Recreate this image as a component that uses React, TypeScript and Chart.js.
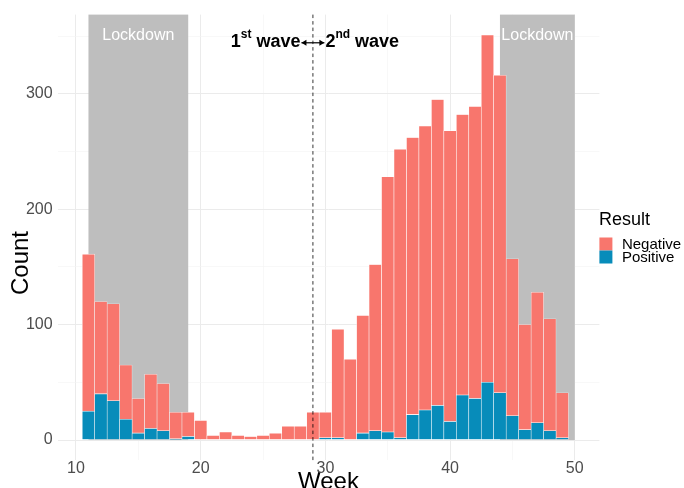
import React, { useEffect, useRef } from 'react';
import { Chart, registerables } from 'chart.js';

Chart.register(...registerables);

// ---- data ----
const weeks = [11, 12, 13, 14, 15, 16, 17, 18, 19, 20, 21, 22, 23, 24, 25, 26, 27, 28, 29, 30, 31, 32, 33, 34, 35, 36, 37, 38, 39, 40, 41, 42, 43, 44, 45, 46, 47, 48, 49];
const negativeCounts = [136, 80, 84, 47, 30, 47, 41, 23, 21, 17, 4, 7, 4, 3, 4, 6, 12, 12, 24, 22, 94, 70, 102, 144, 221, 250, 240, 246, 265, 252, 243, 253, 301, 275, 136, 91, 113, 97, 39];
const positiveCounts = [25, 40, 34, 18, 6, 10, 8, 1, 3, 0, 0, 0, 0, 0, 0, 0, 0, 0, 0, 2, 2, 0, 6, 8, 7, 2, 22, 26, 30, 16, 39, 36, 50, 41, 21, 9, 15, 8, 2];
const yMajorTicks = [0, 100, 200, 300];
const yMinorTicks = [50, 150, 250, 350];
const xMajorTicks = [10, 20, 30, 40, 50];
const xMinorTicks = [15, 25, 35, 45];
const lockdownStarts = [11, 44];
const lockdownEnds = [19, 50];
const lockdownLabel = 'Lockdown';
const waveBoundary = 29;
const seriesLabels = ['Negative', 'Positive'];
const legendTitle = 'Result';

const NEG_COLOR = '#F8766D';
const POS_COLOR = '#078CBA';
const FONT = '"Liberation Sans", Arial, Helvetica, sans-serif';

const X_MIN = 8.525;
const X_MAX = 51.975;
const Y_MIN = -17.55;
const Y_MAX = 368.55;

const overlayPlugin = {
  id: 'overlay',
  beforeDatasetsDraw(chart: any) {
    const { ctx, chartArea, scales } = chart;
    const x = scales.x;
    const y = scales.y;
    ctx.save();
    ctx.fillStyle = '#BEBEBE';
    lockdownStarts.forEach((s, i) => {
      const x0 = x.getPixelForValue(s);
      const x1 = x.getPixelForValue(lockdownEnds[i]);
      const y0 = y.getPixelForValue(0);
      ctx.fillRect(x0, chartArea.top, x1 - x0, y0 - chartArea.top);
    });
    ctx.restore();
  },
  afterDatasetsDraw(chart: any) {
    const { ctx, chartArea, scales } = chart;
    const x = scales.x;
    const y = scales.y;
    ctx.save();
    // lockdown labels
    ctx.fillStyle = '#FFFFFF';
    ctx.font = `16px ${FONT}`;
    ctx.textAlign = 'center';
    ctx.textBaseline = 'middle';
    lockdownStarts.forEach((s, i) => {
      const cx = (x.getPixelForValue(s) + x.getPixelForValue(lockdownEnds[i])) / 2;
      ctx.fillText(lockdownLabel, cx, y.getPixelForValue(350));
    });
    // dashed boundary
    const bx = x.getPixelForValue(waveBoundary);
    ctx.strokeStyle = '#000000';
    ctx.lineWidth = 0.8;
    ctx.setLineDash([3.5, 3]);
    ctx.beginPath();
    ctx.moveTo(bx, chartArea.top);
    ctx.lineTo(bx, chartArea.bottom);
    ctx.stroke();
    ctx.setLineDash([]);

    // wave annotation
    const ty = y.getPixelForValue(345);
    const big = `bold 18px ${FONT}`;
    const small = `bold 12px ${FONT}`;
    const leftEnd = x.getPixelForValue(waveBoundary - 1);
    const rightStart = x.getPixelForValue(waveBoundary + 1);
    ctx.fillStyle = '#000000';
    ctx.textBaseline = 'middle';
    ctx.textAlign = 'left';
    ctx.font = big;
    const w1 = ctx.measureText('1').width;
    const wWave = ctx.measureText(' wave').width;
    ctx.font = small;
    const wSt = ctx.measureText('st').width;
    let cx = leftEnd - (w1 + wSt + wWave);
    ctx.font = big;
    ctx.fillText('1', cx, ty);
    cx += w1;
    ctx.font = small;
    ctx.fillText('st', cx, ty - 7);
    cx += wSt;
    ctx.font = big;
    ctx.fillText(' wave', cx, ty);
    cx = rightStart;
    ctx.fillText('2', cx, ty);
    cx += ctx.measureText('2').width;
    ctx.font = small;
    ctx.fillText('nd', cx, ty - 7);
    cx += ctx.measureText('nd').width;
    ctx.font = big;
    ctx.fillText(' wave', cx, ty);
    // double arrow
    const ay = ty + 1;
    ctx.lineWidth = 1.2;
    ctx.beginPath();
    ctx.moveTo(leftEnd + 1, ay);
    ctx.lineTo(rightStart - 1, ay);
    ctx.stroke();
    ctx.beginPath();
    ctx.moveTo(leftEnd + 1, ay);
    ctx.lineTo(leftEnd + 6, ay - 3);
    ctx.lineTo(leftEnd + 6, ay + 3);
    ctx.closePath();
    ctx.fill();
    ctx.beginPath();
    ctx.moveTo(rightStart - 1, ay);
    ctx.lineTo(rightStart - 6, ay - 3);
    ctx.lineTo(rightStart - 6, ay + 3);
    ctx.closePath();
    ctx.fill();
    ctx.restore();
  },
  afterDraw(chart: any) {
    const { ctx, chartArea } = chart;
    ctx.save();
    ctx.fillStyle = '#000000';
    ctx.font = `24px ${FONT}`;
    ctx.textAlign = 'center';
    ctx.textBaseline = 'middle';
    ctx.translate(21, 263);
    ctx.rotate(-Math.PI / 2);
    ctx.fillText('Count', 0, 0);
    ctx.setTransform(1, 0, 0, 1, 0, 0);
    // legend
    const lx = chartArea.right - 0.5;
    ctx.textAlign = 'left';
    ctx.textBaseline = 'alphabetic';
    ctx.font = `18px ${FONT}`;
    ctx.fillText(legendTitle, lx, 225);
    const colors = [NEG_COLOR, POS_COLOR];
    seriesLabels.forEach((lab, i) => {
      const top = 237.5 + i * 13;
      ctx.fillStyle = colors[i];
      ctx.fillRect(lx + 0.5, top, 13, 13);
      ctx.fillStyle = '#000000';
      ctx.font = `15px ${FONT}`;
      ctx.fillText(lab, lx + 23, top + 11.8);
    });
    ctx.restore();
  },
};

export default function App() {
  const canvasRef = useRef<HTMLCanvasElement | null>(null);

  useEffect(() => {
    const prevMargin = document.body.style.margin;
    document.body.style.margin = '0';
    const canvas = canvasRef.current;
    if (!canvas) return;
    const chart = new Chart(canvas, {
      type: 'bar',
      data: {
        datasets: [
          {
            label: seriesLabels[1],
            data: weeks.map((w, i) => ({ x: w, y: positiveCounts[i] })),
            backgroundColor: POS_COLOR,
            borderColor: 'rgba(255,255,255,0.75)',
            borderWidth: 0.6,
            borderSkipped: false,
            barPercentage: 1,
            categoryPercentage: 1,
          },
          {
            label: seriesLabels[0],
            data: weeks.map((w, i) => ({ x: w, y: negativeCounts[i] })),
            backgroundColor: NEG_COLOR,
            borderColor: 'rgba(255,255,255,0.75)',
            borderWidth: 0.6,
            borderSkipped: false,
            barPercentage: 1,
            categoryPercentage: 1,
          },
        ],
      },
      options: {
        animation: false,
        responsive: false,
        devicePixelRatio: 1,
        layout: { padding: { left: 0, top: 14.3, right: 84.6, bottom: 0 } },
        plugins: {
          legend: { display: false },
          tooltip: { enabled: false },
        },
        scales: {
          x: {
            type: 'linear',
            stacked: true,
            offset: false,
            min: X_MIN,
            max: X_MAX,
            afterBuildTicks: (s: any) => {
              s.ticks = [...xMajorTicks, ...xMinorTicks].sort((a, b) => a - b).map((v) => ({ value: v }));
            },
            afterFit: (s: any) => {
              s.height = 27.7;
            },
            ticks: {
              autoSkip: false,
              maxRotation: 0,
              padding: 0,
              color: '#4D4D4D',
              font: { family: FONT, size: 16, lineHeight: 1 },
              callback: (v: any) => (xMajorTicks.includes(Number(v)) ? String(v) : ''),
            },
            grid: {
              offset: false,
              drawTicks: false,
              color: (c: any) => (xMajorTicks.includes(c.tick?.value) ? '#EBEBEB' : '#F3F3F3'),
              lineWidth: (c: any) => (xMajorTicks.includes(c.tick?.value) ? 1 : 0.6),
            },
            border: { display: false },
            title: {
              display: true,
              text: 'Week',
              color: '#000000',
              font: { family: FONT, size: 24, lineHeight: 0.9 },
              padding: { top: 0, bottom: -5 },
            },
          },
          y: {
            stacked: true,
            min: Y_MIN,
            max: Y_MAX,
            afterBuildTicks: (s: any) => {
              s.ticks = [...yMajorTicks, ...yMinorTicks].sort((a, b) => a - b).map((v) => ({ value: v }));
            },
            afterFit: (s: any) => {
              s.width = 57.6;
            },
            ticks: {
              autoSkip: false,
              padding: 5,
              color: '#4D4D4D',
              font: { family: FONT, size: 16 },
              callback: (v: any) => (yMajorTicks.includes(Number(v)) ? String(v) : ''),
            },
            grid: {
              drawTicks: false,
              color: (c: any) => (yMajorTicks.includes(c.tick?.value) ? '#EBEBEB' : '#F3F3F3'),
              lineWidth: (c: any) => (yMajorTicks.includes(c.tick?.value) ? 1 : 0.6),
            },
            border: { display: false },
          },
        },
      },
      plugins: [overlayPlugin],
    } as any);
    return () => {
      chart.destroy();
      document.body.style.margin = prevMargin;
    };
  }, []);

  return (
    <div style={{ position: 'relative', width: 684, height: 488, overflow: 'hidden' }}>
      <canvas ref={canvasRef} width={684} height={488} style={{ display: 'block', width: 684, height: 488 }} />
    </div>
  );
}
